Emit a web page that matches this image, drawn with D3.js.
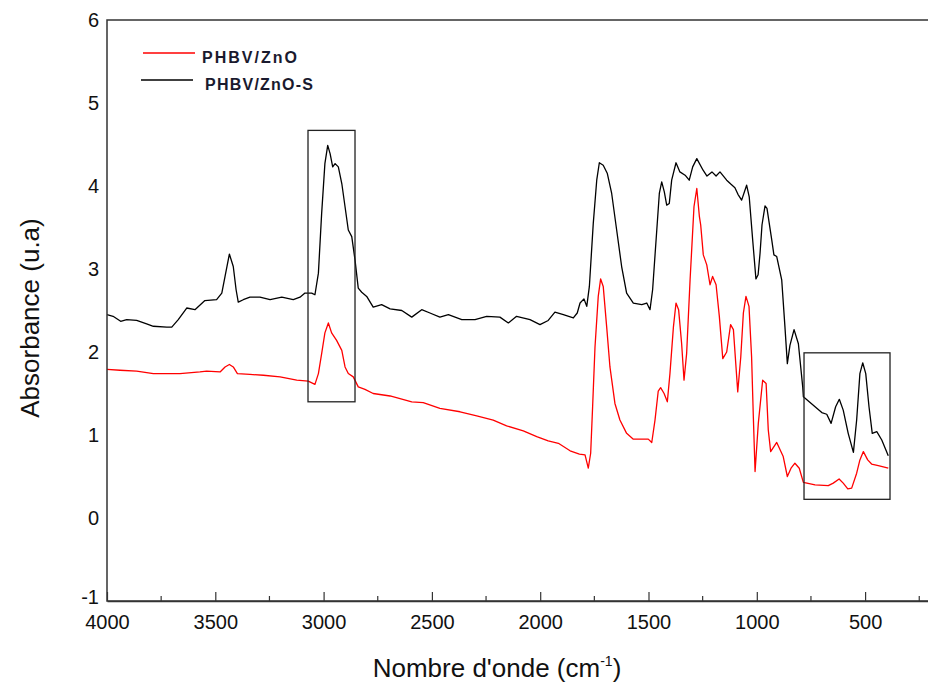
<!DOCTYPE html>
<html>
<head>
<meta charset="utf-8">
<script src="https://cdn.jsdelivr.net/npm/d3@7"></script>
<style>
  body { margin: 0; background: #fff; }
  text { font-family: "Liberation Sans", Arial, sans-serif; }
</style>
</head>
<body>
<div id="chart"></div>
<script>
// Spectra (wavenumber cm-1, absorbance)
var znoWave = [4000, 3940, 3863, 3786, 3663, 3571, 3540, 3478, 3455, 3435, 3417, 3398, 3340, 3278, 3201, 3124, 3071, 3040, 3024, 3009, 2994, 2978, 2963, 2940, 2916, 2901, 2886, 2863, 2840, 2809, 2771, 2693, 2593, 2540, 2463, 2370, 2293, 2217, 2155, 2078, 2016, 1963, 1916, 1862, 1819, 1793, 1778, 1767, 1758, 1747, 1732, 1721, 1709, 1693, 1678, 1655, 1632, 1601, 1570, 1501, 1485, 1470, 1455, 1444, 1428, 1413, 1401, 1385, 1373, 1361, 1347, 1336, 1324, 1308, 1290, 1277, 1265, 1259, 1247, 1231, 1216, 1204, 1188, 1173, 1157, 1139, 1121, 1108, 1096, 1088, 1074, 1062, 1050, 1036, 1024, 1016, 1008, 993, 973, 957, 947, 936, 908, 878, 859, 842, 824, 804, 785, 731, 670, 647, 620, 601, 580, 562, 539, 524, 508, 488, 470, 439, 393];
var znoAbs = [1.79, 1.78, 1.77, 1.74, 1.74, 1.76, 1.77, 1.76, 1.82, 1.85, 1.82, 1.74, 1.73, 1.72, 1.70, 1.66, 1.65, 1.61, 1.74, 1.98, 2.23, 2.35, 2.23, 2.14, 2.02, 1.82, 1.74, 1.70, 1.58, 1.55, 1.50, 1.47, 1.40, 1.39, 1.32, 1.28, 1.23, 1.18, 1.11, 1.05, 0.98, 0.93, 0.90, 0.81, 0.77, 0.76, 0.60, 0.78, 1.34, 2.06, 2.67, 2.88, 2.79, 2.30, 1.82, 1.38, 1.18, 1.02, 0.95, 0.95, 0.91, 1.18, 1.53, 1.57, 1.50, 1.40, 1.74, 2.30, 2.59, 2.51, 2.10, 1.66, 1.98, 2.87, 3.75, 3.97, 3.63, 3.53, 3.17, 3.05, 2.81, 2.91, 2.81, 2.43, 1.92, 2.00, 2.33, 2.27, 1.82, 1.52, 1.94, 2.47, 2.67, 2.55, 1.94, 1.22, 0.56, 1.14, 1.66, 1.62, 1.06, 0.80, 0.91, 0.74, 0.50, 0.60, 0.66, 0.60, 0.43, 0.40, 0.39, 0.42, 0.47, 0.42, 0.35, 0.36, 0.54, 0.70, 0.80, 0.70, 0.65, 0.63, 0.60];

var znoSWave = [4000, 3972, 3937, 3909, 3863, 3817, 3786, 3724, 3701, 3671, 3632, 3594, 3548, 3494, 3470, 3455, 3435, 3417, 3404, 3394, 3371, 3340, 3294, 3247, 3193, 3140, 3109, 3086, 3055, 3040, 3024, 3009, 2994, 2981, 2970, 2958, 2947, 2932, 2916, 2901, 2886, 2870, 2855, 2840, 2824, 2801, 2771, 2732, 2693, 2639, 2593, 2547, 2509, 2463, 2424, 2362, 2301, 2247, 2186, 2147, 2109, 2047, 2001, 1963, 1932, 1893, 1847, 1829, 1816, 1798, 1785, 1773, 1755, 1739, 1727, 1709, 1690, 1670, 1647, 1624, 1601, 1570, 1531, 1508, 1493, 1481, 1465, 1450, 1439, 1427, 1416, 1404, 1393, 1373, 1355, 1331, 1312, 1296, 1277, 1248, 1230, 1207, 1188, 1170, 1139, 1119, 1101, 1087, 1070, 1047, 1035, 1019, 1004, 994, 985, 976, 962, 953, 931, 921, 908, 885, 870, 859, 847, 828, 808, 788, 785, 731, 700, 677, 657, 636, 619, 601, 578, 554, 539, 524, 511, 497, 482, 467, 446, 423, 393];
var znoSAbs = [2.45, 2.43, 2.37, 2.39, 2.38, 2.34, 2.31, 2.30, 2.30, 2.39, 2.53, 2.51, 2.62, 2.63, 2.71, 2.91, 3.18, 3.03, 2.75, 2.60, 2.63, 2.66, 2.66, 2.63, 2.66, 2.63, 2.66, 2.71, 2.71, 2.69, 2.95, 3.67, 4.27, 4.49, 4.39, 4.23, 4.27, 4.23, 4.03, 3.75, 3.47, 3.39, 3.11, 2.77, 2.72, 2.67, 2.54, 2.57, 2.52, 2.50, 2.42, 2.51, 2.47, 2.42, 2.45, 2.39, 2.39, 2.43, 2.42, 2.35, 2.43, 2.39, 2.33, 2.38, 2.48, 2.45, 2.41, 2.47, 2.59, 2.64, 2.55, 2.79, 3.55, 4.07, 4.28, 4.25, 4.15, 3.91, 3.47, 3.03, 2.71, 2.59, 2.57, 2.59, 2.51, 2.75, 3.35, 3.91, 4.05, 3.93, 3.77, 3.79, 4.07, 4.28, 4.17, 4.13, 4.07, 4.23, 4.33, 4.19, 4.12, 4.17, 4.12, 4.17, 4.07, 4.02, 3.98, 3.90, 3.83, 4.01, 3.87, 3.35, 2.88, 2.93, 3.19, 3.53, 3.76, 3.73, 3.35, 3.17, 3.15, 2.87, 2.30, 1.86, 2.08, 2.27, 2.10, 1.58, 1.46, 1.34, 1.27, 1.25, 1.14, 1.34, 1.43, 1.30, 1.02, 0.79, 1.18, 1.74, 1.87, 1.74, 1.34, 1.02, 1.04, 0.94, 0.75];

// Highlight boxes: [wave from, wave to, abs low, abs high]
var boxes = [[3072, 2855, 1.40, 4.67], [782, 385, 0.225, 1.99]];

var seriesNames = ["PHBV/ZnO", "PHBV/ZnO-S"];
var seriesColors = ["#ff0000", "#000000"];

var xTicks = [4000, 3500, 3000, 2500, 2000, 1500, 1000, 500];
var xMinorTicks = [3750, 3250, 2750, 2250, 1750, 1250, 750, 250];
var yTicks = [-1, 0, 1, 2, 3, 4, 5, 6];

// Set up chart
var svgWidth = 928;
var svgHeight = 689;

var margin = { top: 20, left: 107 };
var plotBottom = 601;

var svg = d3.select("#chart")
  .append("svg")
  .attr("width", svgWidth)
  .attr("height", svgHeight);

// The right side of the frame is cut off by the picture edge
var xScale = d3.scaleLinear()
  .domain([4000, 0])
  .range([margin.left, margin.left + 4000 * 0.2166]);

var yScale = d3.scaleLinear()
  .domain([-1, 6])
  .range([plotBottom, margin.top]);

// Curves
var line = d3.line()
  .x(d => xScale(d[0]))
  .y(d => yScale(d[1]));

var znoData = znoWave.map((w, i) => [w, znoAbs[i]]);
var znoSData = znoSWave.map((w, i) => [w, znoSAbs[i]]);

[znoData, znoSData].forEach(function(data, i) {
  svg.append("path")
    .datum(data)
    .attr("fill", "none")
    .attr("stroke", seriesColors[i])
    .attr("stroke-width", 1.3)
    .attr("stroke-linejoin", "round")
    .attr("d", line);
});

// Boxes
svg.selectAll(".hbox")
  .data(boxes)
  .enter()
  .append("rect")
  .attr("class", "hbox")
  .attr("x", d => xScale(d[0]))
  .attr("y", d => yScale(d[3]))
  .attr("width", d => xScale(d[1]) - xScale(d[0]))
  .attr("height", d => yScale(d[2]) - yScale(d[3]))
  .attr("fill", "none")
  .attr("stroke", "#222")
  .attr("stroke-width", 1.3);

// Frame
svg.append("rect")
  .attr("x", margin.left)
  .attr("y", margin.top)
  .attr("width", xScale(0) - margin.left)
  .attr("height", plotBottom - margin.top)
  .attr("fill", "none")
  .attr("stroke", "#333")
  .attr("stroke-width", 1.5);

// X axis with inward ticks
var bottomAxis = d3.axisBottom(xScale)
  .tickValues(xTicks)
  .tickFormat(d => String(d))
  .tickSizeInner(-9)
  .tickSizeOuter(0)
  .tickPadding(14);

var xAxis = svg.append("g")
  .attr("transform", `translate(0, ${plotBottom})`)
  .call(bottomAxis);

xAxis.select(".domain").attr("stroke", "#333").attr("stroke-width", 1.5);
xAxis.selectAll(".tick line").attr("stroke", "#333").attr("stroke-width", 1.2);
xAxis.selectAll("text")
  .attr("font-size", 20)
  .attr("fill", "#111")
  .style("font-family", "'Liberation Sans', Arial, sans-serif");

svg.append("g")
  .selectAll("line")
  .data(xMinorTicks)
  .enter()
  .append("line")
  .attr("x1", d => xScale(d))
  .attr("x2", d => xScale(d))
  .attr("y1", plotBottom)
  .attr("y2", plotBottom - 5)
  .attr("stroke", "#333")
  .attr("stroke-width", 1.2);

// Y axis labels only
var leftAxis = d3.axisLeft(yScale)
  .tickValues(yTicks)
  .tickFormat(d => String(d))
  .tickSize(0)
  .tickPadding(8);

var yAxis = svg.append("g")
  .attr("transform", `translate(${margin.left}, 0)`)
  .call(leftAxis);

yAxis.select(".domain").remove();
yAxis.selectAll("text")
  .attr("font-size", 20)
  .attr("fill", "#111")
  .style("font-family", "'Liberation Sans', Arial, sans-serif");

// lift the lowest label a little so it clears "4000"
yAxis.selectAll(".tick")
  .filter(d => d === -1)
  .select("text")
  .attr("dy", "0.1em");

// Axis titles
svg.append("text")
  .attr("transform", "rotate(-90)")
  .attr("x", -318)
  .attr("y", 39)
  .attr("text-anchor", "middle")
  .attr("font-size", 26)
  .attr("fill", "#111")
  .text("Absorbance (u.a)");

var xTitle = svg.append("text")
  .attr("x", 497)
  .attr("y", 677)
  .attr("text-anchor", "middle")
  .attr("font-size", 26)
  .attr("fill", "#111");
xTitle.append("tspan").text("Nombre d'onde (cm");
xTitle.append("tspan").attr("font-size", 14).attr("dy", -11).text("-1");
xTitle.append("tspan").attr("dy", 11).text(")");

// Legend
var legend = svg.append("g");
var legendPos = [
  { x1: 143, x2: 195, y: 53, tx: 202, len: 95 },
  { x1: 141, x2: 193, y: 80, tx: 205, len: 108 }
];

legendPos.forEach(function(p, i) {
  legend.append("line")
    .attr("x1", p.x1)
    .attr("x2", p.x2)
    .attr("y1", p.y)
    .attr("y2", p.y)
    .attr("stroke", seriesColors[i])
    .attr("stroke-width", 1.3);

  legend.append("text")
    .attr("x", p.tx)
    .attr("y", p.y + 10)
    .attr("font-size", 16)
    .attr("font-weight", "bold")
    .attr("textLength", p.len)
    .attr("lengthAdjust", "spacing")
    .attr("fill", "#1a1a2e")
    .text(seriesNames[i]);
});
</script>
</body>
</html>
